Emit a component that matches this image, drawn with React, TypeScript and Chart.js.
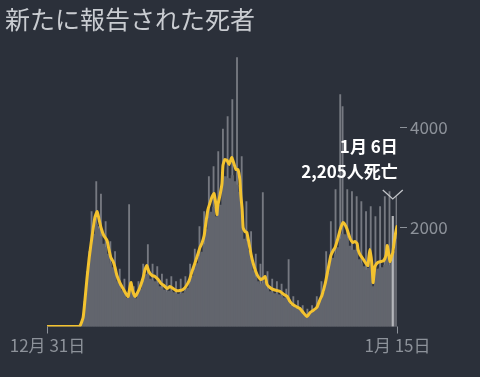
import { useEffect, useRef } from 'react';
import { Chart, registerables } from 'chart.js';

Chart.register(...registerables);

const titleText = '新たに報告された死者';
const xTickDays = [0, 746];
const xTickLabels = ['12月 31日', '1月 15日'];
const yTickValues = [2000, 4000];
const highlightDay = 737;
const highlightDeaths = 2205;
const highlightLabel = '1月 6日';

// 7-day average (days since 12/31)
const avgDays = [0,28,60,70,77,81,85,90,96,102,107,111,115,121,128,132,136,141,145,149,156,162,168,173,177,179,183,188,192,198,205,209,213,217,224,230,237,243,249,256,262,269,275,283,290,296,303,309,315,322,326,330,335,339,343,347,352,356,360,362,364,369,373,375,379,384,388,392,394,399,403,407,411,413,416,418,422,426,431,435,439,445,450,456,460,465,469,475,482,490,497,505,512,518,524,531,539,546,554,561,567,575,582,586,593,599,605,610,614,620,625,631,635,639,646,652,656,661,663,667,673,680,684,686,688,691,693,695,697,699,705,712,718,723,725,727,731,735,737,742,746];
const avgDeaths = [0,0,0,10,180,540,940,1380,1800,2180,2300,2140,1980,1820,1720,1540,1380,1300,1180,1020,860,760,660,600,800,880,700,600,660,780,980,1140,1220,1100,1020,1000,940,860,820,760,800,760,720,720,740,800,920,1100,1260,1460,1580,1660,1820,2100,2340,2460,2600,2660,2440,2240,2420,2640,2860,3220,3340,3320,3240,3340,3380,3240,3140,3140,2940,2640,2340,1980,1900,1880,1640,1440,1280,1100,1000,940,960,1000,840,780,740,720,700,640,600,500,440,400,360,280,200,280,320,380,540,620,860,1140,1420,1520,1580,1760,1940,2080,2040,1960,1760,1680,1700,1660,1540,1440,1360,1260,1220,1380,1540,1380,1180,880,1040,1200,1280,1300,1320,1440,1620,1540,1300,1420,1480,1820,2000];

// daily reported deaths, sampled every 5 days from 12/31
const barStep = 5;
// typical (dense) daily level
const bodyDeaths = [
  0,0,0,0,0,0,0,0,0,0,0,0,0,0,
  10,100,400,850,1250,1600,1850,2050,1950,1800,
  1650,1580,1450,1260,1180,1060,900,800,720,640,
  570,700,760,590,560,650,750,880,1040,1040,
  950,920,900,860,800,760,730,690,710,700,
  680,650,650,650,670,710,770,880,1010,1130,
  1260,1400,1490,1640,1940,2160,2290,2390,2200,2210,
  2430,2900,3000,2970,2960,3020,2900,2830,2690,2200,
  1750,1700,1520,1300,1120,990,900,850,860,900,
  750,700,675,660,650,635,610,575,550,490,
  430,390,365,340,315,260,215,190,240,275,
  305,340,450,540,680,860,1070,1280,1370,1450,
  1580,1750,1850,1840,1760,1610,1530,1530,1500,1340,
  1260,1200,1130,1170,1300,800,1090,1150,1170,1180,
  1230,1460,1220,1280,1500,1750
];
// reported spikes (peak days)
const spikeDeaths = [
  0,0,0,0,0,0,0,0,0,0,0,0,0,0,
  10,80,500,1100,1500,2300,1800,2900,2000,2650,
  1600,2100,1350,1700,1100,1500,800,1150,650,950,
  500,2440,650,800,450,900,650,1250,900,1640,
  850,1250,750,1200,700,1050,600,950,600,1000,
  550,900,550,950,580,1000,650,1250,850,1550,
  1100,2000,1300,2300,1700,3000,2000,3200,1600,3500,
  2100,3950,2600,4200,2700,4540,2600,5380,2300,3400,
  1500,2500,1300,1900,950,1450,750,1250,2680,800,
  1100,600,950,550,900,500,850,450,750,1340,
  350,600,280,520,250,420,170,350,190,420,
  230,600,350,900,550,1500,850,2100,1100,2740,
  1300,4640,4400,1500,2740,1300,2700,1200,2600,1100,
  2500,1000,2300,900,2400,500,2200,900,2400,950,
  2600,1100,2700,800,1400,2600
];

const BG = '#2b303a';
const YELLOW = '#f3c22f';
const GRAY = '#62656d';
const SPIKE = '#767981';
const AXIS = '#8d929a';
const FONT = '"Noto Sans CJK JP", "Noto Sans", sans-serif';

const textPlugin = {
  id: 'texts',
  afterDraw(chart: any) {
    const ctx = chart.ctx;
    const xs = chart.scales.x;
    const ys = chart.scales.y;
    const area = chart.chartArea;
    ctx.save();
    ctx.font = `25px ${FONT}`;
    ctx.fillStyle = '#c9ccd1';
    ctx.textAlign = 'left';
    ctx.textBaseline = 'middle';
    ctx.fillText(titleText, 5, 19);

    ctx.font = `17px ${FONT}`;
    ctx.strokeStyle = AXIS;
    ctx.fillStyle = AXIS;
    ctx.lineWidth = 1;
    yTickValues.forEach((v) => {
      const py = Math.round(ys.getPixelForValue(v)) + 0.5;
      ctx.beginPath();
      ctx.moveTo(area.right + 3, py);
      ctx.lineTo(area.right + 10, py);
      ctx.stroke();
      ctx.fillText(String(v), area.right + 13, py);
    });

    ctx.textAlign = 'center';
    xTickDays.forEach((d, i) => {
      const px = Math.round(xs.getPixelForValue(d)) + 0.5;
      ctx.beginPath();
      ctx.moveTo(px, area.bottom);
      ctx.lineTo(px, area.bottom + 7);
      ctx.stroke();
      ctx.fillText(xTickLabels[i], px, area.bottom + 19);
    });

    const hx = xs.getPixelForValue(highlightDay);
    ctx.strokeStyle = '#c3c5c9';
    ctx.lineWidth = 1.3;
    ctx.beginPath();
    ctx.moveTo(hx - 10, 190);
    ctx.lineTo(hx, 199);
    ctx.lineTo(hx + 10, 190);
    ctx.stroke();
    ctx.fillStyle = '#ffffff';
    ctx.textAlign = 'right';
    ctx.font = `bold 17px ${FONT}`;
    ctx.fillText(highlightLabel, hx + 5, 147);
    ctx.fillText(`${highlightDeaths.toLocaleString('en-US')}人死亡`, hx + 5, 172);
    ctx.restore();
  },
};

export default function App() {
  const ref = useRef<HTMLCanvasElement>(null);
  useEffect(() => {
    document.body.style.margin = '0';
    document.body.style.background = BG;
    const chart = new Chart(ref.current as HTMLCanvasElement, {
      type: 'bar',
      data: {
        datasets: [
          {
            type: 'line',
            data: avgDays.map((d, i) => ({ x: d, y: avgDeaths[i] })),
            borderColor: YELLOW,
            borderWidth: 3,
            pointRadius: 0,
            tension: 0.15,
            borderJoinStyle: 'round',
            borderCapStyle: 'round',
            order: 0,
          } as any,
          {
            type: 'bar',
            data: [{ x: highlightDay, y: highlightDeaths }],
            backgroundColor: '#b4b6ba',
            barThickness: 1.5,
            grouped: false,
            order: 1,
          } as any,
          {
            type: 'bar',
            data: bodyDeaths.map((v, i) => ({ x: i * barStep, y: v })),
            backgroundColor: GRAY,
            barThickness: 2.5,
            grouped: false,
            order: 2,
          } as any,
          {
            type: 'bar',
            data: spikeDeaths.map((v, i) => ({ x: i * barStep, y: v })),
            backgroundColor: SPIKE,
            barThickness: 1.2,
            grouped: false,
            order: 3,
          } as any,
        ],
      },
      options: {
        responsive: false,
        animation: false,
        events: [],
        layout: { padding: { left: 47, right: 83, top: 51.5, bottom: 50.5 } },
        plugins: { legend: { display: false }, tooltip: { enabled: false }, title: { display: false } },
        scales: {
          x: { type: 'linear', min: 0, max: 746, display: false, offset: false },
          y: { min: 0, max: 5500, display: false },
        },
      } as any,
      plugins: [textPlugin],
    });
    return () => chart.destroy();
  }, []);
  return (
    <div style={{ width: 480, height: 377, background: BG }}>
      <canvas ref={ref} width={480} height={377} style={{ display: 'block' }} />
    </div>
  );
}
